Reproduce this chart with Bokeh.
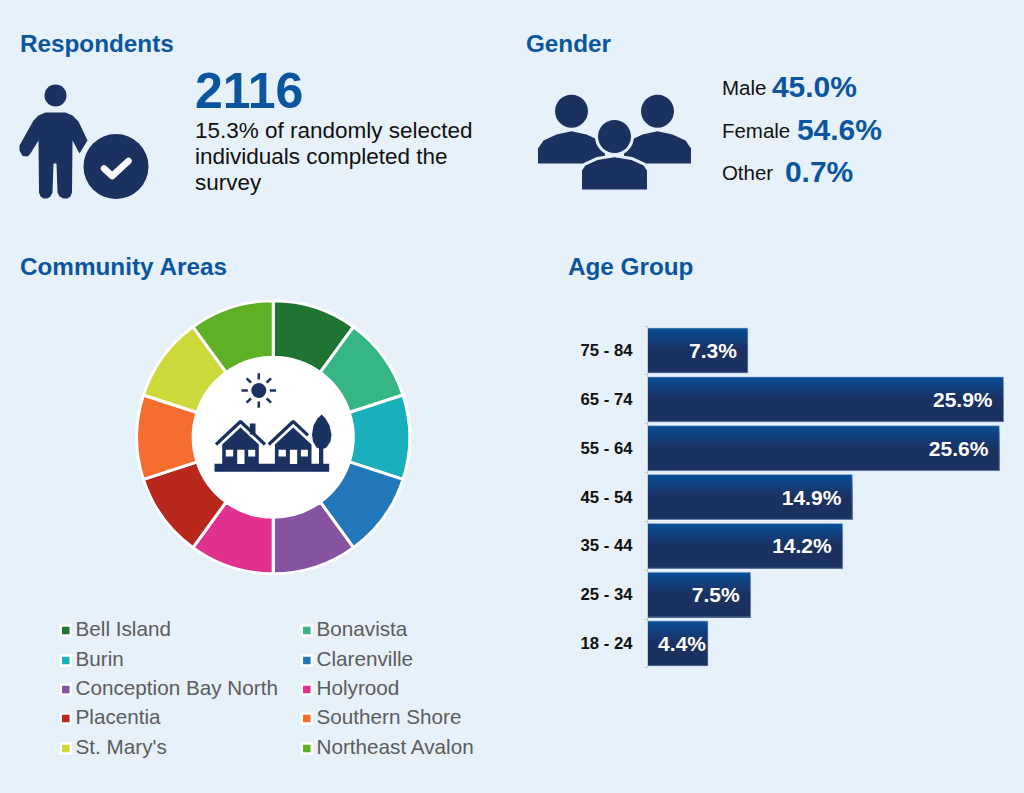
from bokeh.plotting import figure
from bokeh.layouts import column, row
from bokeh.models import Range1d, FixedTicker, ColumnDataSource
from bokeh.core.properties import value
from bokeh.embed import file_html
from bokeh.resources import INLINE
import math

# ---- data ----
areas = ["Bell Island", "Bonavista", "Burin", "Clarenville", "Conception Bay North",
         "Holyrood", "Placentia", "Southern Shore", "St. Mary's", "Northeast Avalon"]
area_shares = [10, 10, 10, 10, 10, 10, 10, 10, 10, 10]
area_colors = ["#1f7431", "#35b684", "#1ab0bb", "#2278ba", "#8653a1",
               "#e0318f", "#b8281c", "#f46d2e", "#cdd93a", "#5eb025"]
age_groups = ["18 - 24", "25 - 34", "35 - 44", "45 - 54", "55 - 64", "65 - 74", "75 - 84"]
age_pct = [4.4, 7.5, 14.2, 14.9, 25.6, 25.9, 7.3]
respondents = "2116"
resp_lines = ["15.3% of randomly selected", "individuals completed the", "survey"]
gender_names = ["Male", "Female", "Other"]
gender_vals = ["45.0%", "54.6%", "0.7%"]

BG = "#e6f1fa"
NAVY = "#1b3160"
BLUE = "#0b559f"
FONT = value("Liberation Sans")
SPLIT_Y = 296
SPLIT_X = 540
W, H = 1024, 793


def base(width, height, xr, yr, **kw):
    f = figure(width=width, height=height, x_range=xr, y_range=yr, toolbar_location=None,
               output_backend="svg", background_fill_color=BG, border_fill_color=BG,
               min_border=0, **kw)
    f.outline_line_color = None
    f.grid.visible = False
    return f


# ---- top panel: page-pixel coordinates ----
top = base(W, SPLIT_Y, Range1d(0, W), Range1d(SPLIT_Y, 0))
top.axis.visible = False


def txt(f, x, y, s, size, color="#111111", bold=False, align="left"):
    f.text([x - 0.6], [y - 0.4], text=[s], text_font=FONT, text_font_size=f"{size}px", text_color=color,
           text_font_style="bold" if bold else "normal", text_baseline="middle", text_align=align)


for x, y, s in [(20, 43, "Respondents"), (526, 43, "Gender"),
                (20, 266, "Community Areas"), (568, 266, "Age Group")]:
    txt(top, x, y, s, 24.3, BLUE, True)

txt(top, 195, 90, respondents, 50, BLUE, True)
for y, s in zip([130, 156, 182], resp_lines):
    txt(top, 195, y, s, 22.5, "#111111")

for x_v, y, n, v in zip([772, 797, 785], [87, 130, 172], gender_names, gender_vals):
    txt(top, 722, y, n, 20.5, "#111111")
    txt(top, x_v, y - 1, v, 30, BLUE, True)

# person icon
top.circle([55], [95], radius=11, fill_color=NAVY, line_color=None)
top.patch([45, 65, 72, 78, 87, 79, 72, 71.5, 70, 67, 63, 59, 57, 56, 53, 52, 50, 47, 43, 40, 38.5, 38,
           30, 27, 22, 19, 19, 33, 38],
          [112, 112, 115, 121, 140, 153, 140, 192, 196, 198, 198, 196, 192, 163, 163, 192, 196, 198,
           198, 196, 192, 140, 153, 156, 155.5, 150, 145, 120, 115],
          fill_color=NAVY, line_color=None)
top.circle([115.5], [166], radius=32.5, fill_color=NAVY, line_color=None)
top.line([103.5, 111.7, 128], [168, 175.5, 160.5], line_color="white", line_width=6.5,
         line_cap="round", line_join="round")

# people icon
for cx in (571, 657):
    top.circle([cx], [110.7], radius=16.5, fill_color=NAVY, line_color=None)
    dxs = [-33.5, -33.5, -28, -15, 0, 15, 28, 33.5, 33.5]
    dys = [163, 148, 140, 134, 130.7, 134, 140, 148, 163]
    top.patch([cx + d for d in dxs], dys, fill_color=NAVY, line_color=None)
mid_x = [581.5, 581.5, 585, 597, 614, 631, 643, 646.5, 646.5]
mid_y = [189, 170, 165, 159.5, 156.7, 159.5, 165, 170, 189]
top.circle([614], [136], radius=16.5, fill_color=BG, line_color=BG, line_width=6)
top.patch(mid_x, mid_y, fill_color=BG, line_color=BG, line_width=6)
top.circle([614], [136], radius=16.5, fill_color=NAVY, line_color=None)
top.patch(mid_x, mid_y, fill_color=NAVY, line_color=None)

# ---- donut panel ----
CX, CY = 272.7, 436.7
left = base(SPLIT_X, H - SPLIT_Y, Range1d(-CX, SPLIT_X - CX), Range1d(CY - H, CY - SPLIT_Y))
left.axis.visible = False


def px(X):
    return X - CX


def py(Y):
    return CY - Y


total = sum(area_shares)
starts, ends, acc = [], [], 0
for s in area_shares:
    starts.append(math.pi / 2 - 2 * math.pi * acc / total)
    acc += s
    ends.append(math.pi / 2 - 2 * math.pi * acc / total)
left.annular_wedge([0] * len(areas), [0] * len(areas), inner_radius=80, outer_radius=136.5,
                   start_angle=starts, end_angle=ends, direction="clock",
                   fill_color=area_colors, line_color="white", line_width=3)
left.circle([0], [0], radius=80, fill_color="white", line_color=None)

# sun
sx, sy = px(258.3), py(390)
left.circle([sx], [sy], radius=7.5, fill_color=NAVY, line_color=None)
for k in range(8):
    a = k * math.pi / 4
    left.line([sx + 11 * math.cos(a), sx + 17.3 * math.cos(a)],
              [sy + 11 * math.sin(a), sy + 17.3 * math.sin(a)], line_color=NAVY, line_width=2.5)


def rect(l, r, t, b, color):
    left.quad(left=[px(l)], right=[px(r)], top=[py(t)], bottom=[py(b)], fill_color=color, line_color=None)


rect(214, 328.7, 463.3, 471.3, NAVY)
for dx, endx, chim in [(0, 265, True), (52.7, 307.5, False)]:
    if chim:
        rect(249.3, 255, 423, 434, NAVY)
    left.line([px(215.5 + dx), px(240 + dx), px(endx if not chim else 264.5)],
              [py(444), py(421), py(444 if chim else 421 + (endx - 240 - dx) * 0.94)],
              line_color=NAVY, line_width=3.2)
    left.patch([px(x + dx) for x in (221.7, 221.7, 240, 258.3, 258.3)],
               [py(y) for y in (464, 444, 427, 444, 464)], fill_color=NAVY, line_color=None)
    rect(225.3 + dx, 232.7 + dx, 449.3, 456, "white")
    rect(236.7 + dx, 244 + dx, 449.3, 463.5, "white")
    rect(247.7 + dx, 254.7 + dx, 449.3, 456, "white")
left.patch([px(x) for x in (321.2, 325, 329, 331, 330, 326, 321.2, 316, 312.5, 311.5, 313, 317)],
           [py(y) for y in (414, 418, 425, 434, 441, 447, 449, 447, 441, 434, 425, 418)],
           fill_color=NAVY, line_color=None)
rect(318.5, 322.8, 446, 464, NAVY)

# legend
leg_x = [61 + 241 * (i % 2) for i in range(len(areas))]
leg_rows = [629, 659, 688, 717, 747]
leg_y = [leg_rows[i // 2] for i in range(len(areas))]
left.scatter([px(x) + 4.3 for x in leg_x], [py(y) - 1 for y in leg_y], marker="square", size=12.5,
             fill_color="white", line_color=None)
left.scatter([px(x) + 4.3 for x in leg_x], [py(y) - 1 for y in leg_y], marker="square", size=7.5,
             fill_color=area_colors, line_color=None)
left.text([px(x) + 14 for x in leg_x], [py(y) + 1 for y in leg_y], text=areas, text_font=FONT,
          text_font_size="20.7px", text_color="#5c5c5c", text_baseline="middle")

# ---- age bars ----
PX_PER_PCT = 13.745
BAND = 48.83          # pixels per age band
ZERO_Y = 643.0        # page y of the lowest band's centre
right = base(W - SPLIT_X, H - SPLIT_Y, Range1d(0, (W - 647) / PX_PER_PCT),
             Range1d((ZERO_Y - H) / BAND, (ZERO_Y - SPLIT_Y) / BAND))
right.min_border_left = 647 - SPLIT_X
right.min_border_right = 0
right.xaxis.visible = False
ypos = list(range(len(age_groups)))

n = 14
HEIGHT = 0.92
c0, c1 = (10, 76, 148), (27, 49, 96)
for k in range(n):
    t = min(1, (k / (n - 1)) / 0.5)
    col = "#%02x%02x%02x" % tuple(int(a + (b - a) * t) for a, b in zip(c0, c1))
    strip_top = HEIGHT / 2 - k * HEIGHT / n
    strip_bot = -HEIGHT / 2
    right.hbar(y=[p + (strip_top + strip_bot) / 2 for p in ypos], left=0, right=age_pct,
               height=strip_top - strip_bot, fill_color=col, line_color=None)
right.hbar(y=ypos, left=0, right=age_pct, height=HEIGHT, fill_color=None,
           line_color="#a9c1dc", line_width=1, line_alpha=0.6)
src = ColumnDataSource(dict(y=ypos, x=age_pct, t=[f"{v:.1f}%" for v in age_pct],
                            off=[-11 if v > 5 else -2 for v in age_pct]))
right.text("x", "y", text="t", x_offset="off", source=src, text_font=FONT, text_font_size="21px",
           text_font_style="bold", text_color="white", text_align="right", text_baseline="middle")

ax = right.yaxis[0]
ax.ticker = FixedTicker(ticks=ypos, minor_ticks=[p - 0.5 for p in ypos] + [len(ypos) - 0.5])
ax.bounds = (-0.5, len(ypos) - 0.5)
ax.major_label_overrides = dict(zip(ypos, age_groups))
ax.major_tick_line_color = None
ax.minor_tick_line_color = "#c3ccd6"
ax.minor_tick_out = 3
ax.minor_tick_in = 0
ax.axis_line_color = "#c3ccd6"
ax.major_label_standoff = 9
ax.major_label_text_font = "Liberation Sans"
ax.major_label_text_font_size = "16.7px"
ax.major_label_text_font_style = "bold"
ax.major_label_text_color = "#111111"

page = column(top, row(left, right, spacing=0), spacing=0)
html = file_html(page, INLINE)
style = f"<style>html,body{{margin:0;padding:0;background:{BG};overflow:hidden}}</style>"
html = html.replace("</head>", style + "</head>", 1)
open("out.html", "w").write(html)
